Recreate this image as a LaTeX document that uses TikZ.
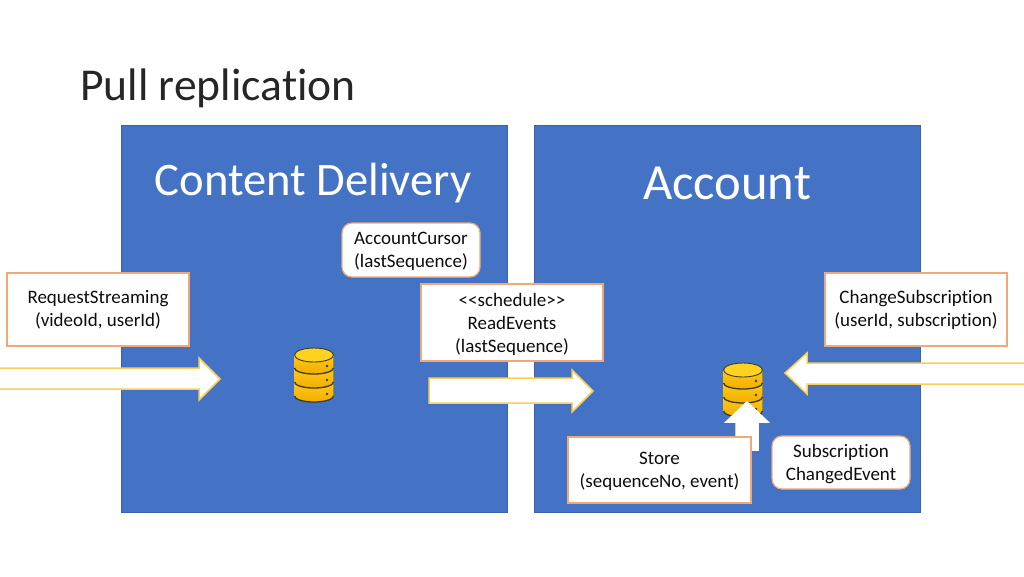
\documentclass[tikz,border=0pt]{standalone}
\usepackage{fontspec}
\setmainfont{Carlito}[Ligatures=CommonOff]
\definecolor{panelblue}{HTML}{4472C4}
\definecolor{panelline}{HTML}{3A62A8}
\definecolor{boxline}{HTML}{F0A878}
\definecolor{arrowline}{HTML}{FBCF55}
\definecolor{dbtop}{HTML}{FFD21F}
\definecolor{dbbottom}{HTML}{F2AE00}
\definecolor{dbline}{HTML}{3B3B30}
\tikzset{
    panelbox/.style={draw=panelline, fill=panelblue, line width=0.6pt},
    paneltitle/.style={text=white},
    msgbox/.style={draw=boxline, fill=white, line width=1.2pt, align=center, inner sep=0pt,
        font=\fontsize{19}{23}\selectfont, text=black!95, text depth=0pt},
    roundbox/.style={msgbox, rounded corners=10pt},
    blockarrow/.style={draw=arrowline, fill=white, line width=1.5pt, line join=miter},
    dbdisk/.style={top color=dbtop, bottom color=dbbottom},
    dbband/.style={draw=dbline, line width=1.3pt},
    dbicon/.pic={
        \foreach \offs in {28, 14, 0} {
            \fill[dbdisk] (-19.5, \offs + 7) -- (-19.5, \offs + 20)
                arc[start angle=180, end angle=0, x radius=19.5, y radius=6]
                -- (19.5, \offs + 7)
                arc[start angle=0, end angle=-180, x radius=19.5, y radius=7] -- cycle;
            \draw[dbband] (-19.5, \offs + 20)
                arc[start angle=180, end angle=0, x radius=19.5, y radius=6];
            \fill[dbline] (13, \offs + 18) circle (1.4);
        }
        \draw[dbband, line width=0.9pt, fill=dbtop] (0, 7) ellipse (19.5 and 7);
    }
}
\begin{document}
\begin{tikzpicture}[x=1pt, y=-1pt]
    \useasboundingbox (0, 0) rectangle (1024, 576);

    \node[font=\fontsize{45.6}{50}\selectfont, text=black!85, anchor=base west, inner sep=0pt] (slidetitle) at (80, 100) {Pull replication};

    \draw[panelbox] (121, 125) rectangle (507, 512);
    \draw[panelbox] (534, 125) rectangle (920, 512);
    \node[paneltitle, font=\fontsize{46.6}{50}\selectfont, anchor=base] (contentdelivery) at (313, 195) {Content Delivery};
    \node[paneltitle, font=\fontsize{50.6}{54}\selectfont, anchor=base] (account) at (727, 199) {Account};

    \pic at (314, 348) {dbicon};
    \pic at (743, 363) {dbicon};

    \draw[blockarrow] (-5, 368) -- (199, 368) -- (199, 358) -- (220, 379) -- (199, 400) -- (199, 389) -- (-5, 389) -- cycle;
    \draw[blockarrow] (429, 378) -- (572, 378) -- (572, 370) -- (593, 391) -- (572, 412) -- (572, 403) -- (429, 403) -- cycle;
    \draw[blockarrow] (1029, 363) -- (807, 363) -- (807, 353) -- (785, 373) -- (807, 394) -- (807, 384) -- (1029, 384) -- cycle;
    \draw[blockarrow, draw=white] (736, 450) -- (736, 422) -- (726, 422) -- (747, 402) -- (768, 422) -- (758, 422) -- (758, 450) -- cycle;

    \node[msgbox, minimum width=182pt, minimum height=73pt, text depth=3pt] (requeststreaming) at (98, 309.5) {RequestStreaming\\(videoId, userId)};
    \node[roundbox, minimum width=138pt, minimum height=54pt] (accountcursor) at (411, 250) {AccountCursor\\(lastSequence)};
    \node[msgbox, minimum width=182pt, minimum height=77pt, text depth=-1pt] (readevents) at (512, 322.5) {<{}<schedule>{}>\\ReadEvents\\(lastSequence)};
    \node[msgbox, minimum width=182pt, minimum height=73pt, text depth=3pt] (changesubscription) at (916, 309.5) {ChangeSubscription\\(userId, subscription)};
    \node[msgbox, minimum width=183pt, minimum height=66pt] (store) at (659.5, 470) {Store\\(sequenceNo, event)};
    \node[roundbox, minimum width=138pt, minimum height=53pt] (subscriptionchanged) at (841, 462.5) {Subscription\\ChangedEvent};
\end{tikzpicture}
\end{document}
